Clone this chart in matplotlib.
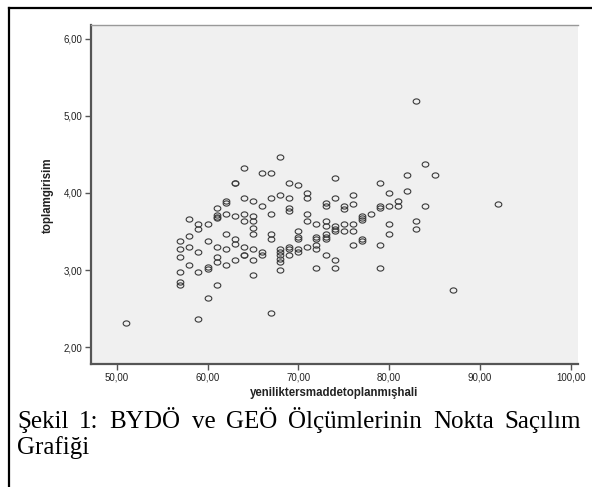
import numpy as np
import matplotlib
matplotlib.use('Agg')
import matplotlib.pyplot as plt
from matplotlib.path import Path
from matplotlib.lines import Line2D
from matplotlib.ticker import FuncFormatter

# yenilik (x) ve toplam girisim (y) puanlari, sutun sutun okunmus
yenilik = [51,
           57, 57, 57, 57, 57, 57,
           58, 58, 58, 58,
           59, 59, 59, 59, 59,
           60, 60, 60, 60, 60,
           61, 61, 61, 61, 61, 61, 61, 61,
           62, 62, 62, 62, 62, 62,
           63, 63, 63, 63, 63, 63,
           64, 64, 64, 64, 64, 64, 64,
           65, 65, 65, 65, 65, 65, 65, 65,
           66, 66, 66, 66,
           67, 67, 67, 67, 67, 67,
           68, 68, 68, 68, 68, 68, 68, 68,
           69, 69, 69, 69, 69, 69, 69,
           70, 70, 70, 70, 70, 70,
           71, 71, 71, 71, 71,
           72, 72, 72, 72, 72, 72,
           73, 73, 73, 73, 73, 73, 73, 73,
           74, 74, 74, 74, 74, 74, 74,
           75, 75, 75, 75,
           76, 76, 76, 76, 76,
           77, 77, 77, 77, 77,
           78,
           79, 79, 79, 79, 79,
           80, 80, 80, 80,
           81, 81,
           82, 82,
           83, 83, 83,
           84, 84,
           85,
           87,
           92]
girisim = [2.31,
           3.37, 3.27, 3.17, 2.97, 2.84, 2.81,
           3.66, 3.44, 3.30, 3.06,
           3.60, 3.53, 3.24, 2.97, 2.37,
           3.60, 3.37, 3.04, 3.01, 2.64,
           3.80, 3.72, 3.69, 3.67, 3.30, 3.17, 3.10, 2.80,
           3.90, 3.87, 3.73, 3.47, 3.27, 3.06,
           4.13, 4.13, 3.70, 3.40, 3.34, 3.13,
           4.33, 3.94, 3.73, 3.63, 3.30, 3.20, 3.20,
           3.90, 3.70, 3.63, 3.54, 3.47, 3.27, 3.13, 2.94,
           4.26, 3.83, 3.24, 3.20,
           4.26, 3.93, 3.73, 3.47, 3.40, 2.44,
           4.47, 3.97, 3.27, 3.23, 3.20, 3.14, 3.10, 3.00,
           4.13, 3.93, 3.80, 3.76, 3.30, 3.27, 3.20,
           4.10, 3.50, 3.43, 3.40, 3.27, 3.23,
           4.00, 3.93, 3.73, 3.63, 3.30,
           3.60, 3.43, 3.40, 3.33, 3.27, 3.03,
           3.87, 3.83, 3.63, 3.57, 3.47, 3.43, 3.40, 3.20,
           4.20, 3.93, 3.57, 3.53, 3.50, 3.13, 3.03,
           3.83, 3.79, 3.60, 3.50,
           3.97, 3.86, 3.60, 3.50, 3.33,
           3.70, 3.67, 3.65, 3.40, 3.37,
           3.73,
           4.13, 3.83, 3.80, 3.33, 3.03,
           4.00, 3.83, 3.60, 3.47,
           3.90, 3.83,
           4.23, 4.03,
           5.20, 3.63, 3.53,
           4.37, 3.83,
           4.23,
           2.74,
           3.86]

x_ticks = [50, 60, 70, 80, 90, 100]
y_ticks = [2, 3, 4, 5, 6]
x_label = 'yeniliktersmaddetoplanmışhali'
y_label = 'toplamgirisim'
caption1 = 'Şekil 1: BYDÖ ve GEÖ Ölçümlerinin Nokta Saçılım'
caption2 = 'Grafiği'

W, H = 592, 487
fig = plt.figure(figsize=(W / 100, H / 100), dpi=100)
ax = fig.add_axes([91 / W, 1 - 364 / H, (578 - 91) / W, (364 - 25) / H])
ax.set_facecolor('#f0f0f0')

# SPSS'teki hafif yatik elips halkalar
t = np.linspace(0, 2 * np.pi, 40)
ellipse = Path(np.column_stack([np.cos(t), 0.78 * np.sin(t)]))
ax.plot(yenilik, girisim, linestyle='none', marker=ellipse, markersize=4.8,
        markerfacecolor='none', markeredgecolor='#3a3a3a', markeredgewidth=0.8)

ax.set_xlim(47.17, 100.8)
ax.set_ylim(1.78, 6.18)
ax.set_xticks(x_ticks)
ax.set_yticks(y_ticks)
fmt = FuncFormatter(lambda v, p: f'{v:.2f}'.replace('.', ','))
ax.xaxis.set_major_formatter(fmt)
ax.yaxis.set_major_formatter(fmt)
ax.tick_params(direction='out', length=4, width=1, color='#555555',
               labelsize=7, pad=2, labelcolor='#222222')
for lab in ax.get_xticklabels() + ax.get_yticklabels():
    lab.set_family(['Liberation Sans', 'DejaVu Sans'])

ax.spines['left'].set_color('#555555')
ax.spines['bottom'].set_color('#555555')
ax.spines['left'].set_linewidth(1.6)
ax.spines['bottom'].set_linewidth(1.6)
ax.spines['top'].set_color('#999999')
ax.spines['top'].set_linewidth(1.0)
ax.spines['right'].set_visible(False)

fig.text(334 / W, 1 - 393 / H, x_label, ha='center', va='center',
         fontsize=8.3, fontweight='bold', family=['Liberation Sans', 'DejaVu Sans'],
         color='#222222')
fig.text(48 / W, 1 - 195 / H, y_label, ha='center', va='center', rotation=90,
         fontsize=8.3, fontweight='bold', family=['Liberation Sans', 'DejaVu Sans'],
         color='#222222')

# dis cerceve (sol ve ust)
fig.add_artist(Line2D([9 / W, 9 / W], [0, 1 - 8 / H], transform=fig.transFigure,
                      color='black', linewidth=1.6))
fig.add_artist(Line2D([9 / W, 1], [1 - 8 / H, 1 - 8 / H], transform=fig.transFigure,
                      color='black', linewidth=1.6))

# iki yana yasli alt yazi
cap_font = dict(fontsize=18, family=['Liberation Serif', 'DejaVu Serif'], color='black',
                va='baseline', ha='left')
fig.canvas.draw()
r = fig.canvas.get_renderer()
words = caption1.split()
texts = [fig.text(0, 1 - 428 / H, w, **cap_font) for w in words]
widths = [tx.get_window_extent(r).width for tx in texts]
left, right = 17, 581
gap = (right - left - sum(widths)) / (len(words) - 1)
xpos = left
for tx, w in zip(texts, widths):
    tx.set_x(xpos / W)
    xpos += w + gap
fig.text(left / W, 1 - 454 / H, caption2, **cap_font)

fig.savefig('out.png', dpi=100)
